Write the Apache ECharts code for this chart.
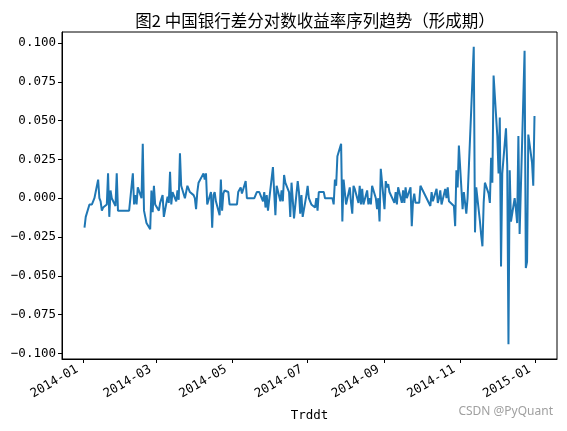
<!DOCTYPE html>
<html>
<head>
<meta charset="utf-8">
<script src="https://cdn.jsdelivr.net/npm/echarts@6/dist/echarts.min.js"></script>
<style>
  html, body { margin: 0; padding: 0; background: #fff; }
  #chart { width: 567px; height: 431px; }
</style>
</head>
<body>
<div id="chart"></div>
<script>
// exchange closed days of 2014 (weekdays only)
const holidays = ['2014-01-01', '2014-01-31', '2014-02-03', '2014-02-04', '2014-02-05', '2014-02-06',
  '2014-04-07', '2014-05-01', '2014-05-02', '2014-06-02', '2014-09-08',
  '2014-10-01', '2014-10-02', '2014-10-03', '2014-10-06', '2014-10-07']

// daily differenced log returns, one list per month (trading days in order)
const jan = [-0.019, -0.012, -0.004, -0.004, -0.004, -0.004, 0.000, 0.012, 0.000, -0.002, -0.008,
  -0.006, -0.004, 0.016, -0.012, 0.005, 0.000, -0.005, 0.016, -0.008, -0.008]
const feb = [-0.008, 0.016, -0.004, 0.002, -0.004, 0.007, 0.000, 0.035, -0.008, -0.012, -0.016,
  -0.020, 0.005, -0.009, 0.008, -0.004]
const mar = [-0.008, -0.003, -0.004, 0.002, -0.012, 0.001, -0.003, 0.017, -0.004, 0.004, -0.002,
  0.005, -0.001, 0.029, 0.008, 0.000, 0.000, 0.008, 0.006, 0.004, 0.002]
const apr = [0.000, -0.007, 0.004, 0.010, 0.016, 0.012, 0.016, -0.004, 0.004, -0.019, 0.002,
  0.004, -0.002, -0.011, 0.012, -0.008, 0.003, 0.005, 0.004, -0.004, -0.004]
const may = [-0.004, 0.004, 0.003, 0.007, 0.003, 0.011, 0.000, 0.000, 0.000, 0.000, 0.000,
  0.000, 0.004, 0.004, 0.004, -0.002, 0.004, -0.006, 0.002, -0.008]
const jun = [0.020, 0.004, -0.011, 0.008, -0.002, 0.005, -0.002, 0.015, 0.010, 0.004, -0.012,
  0.010, -0.001, -0.013, 0.011, 0.004, -0.010, 0.002, -0.012, 0.002]
const jul = [0.008, 0.000, -0.002, -0.004, -0.006, 0.000, -0.008, 0.004, 0.004, 0.004, 0.000,
  0.000, 0.000, 0.000, 0.000, -0.004, 0.012, 0.008, 0.027, 0.035, -0.015, 0.012, 0.004]
const aug = [-0.004, 0.007, -0.003, -0.010, 0.008, 0.006, -0.003, 0.008, -0.004, 0.006, -0.004,
  0.005, -0.004, 0.000, -0.004, 0.008, 0.000, -0.007, 0.000, -0.015, 0.019]
const sep = [-0.007, 0.011, 0.007, 0.009, 0.004, -0.003, 0.004, -0.004, 0.007, -0.003, 0.005,
  -0.003, 0.007, 0.000, 0.007, -0.018, -0.002, 0.003, -0.003, -0.003, 0.008]
const oct = [-0.005, 0.004, -0.002, 0.006, -0.003, 0.000, 0.005, -0.004, 0.006, 0.000, 0.007,
  -0.002, -0.002, -0.005, -0.018, 0.018, 0.007, 0.034]
const nov = [-0.007, 0.004, -0.003, -0.010, 0.000, 0.058, 0.078, 0.0975, -0.022, 0.007, -0.015,
  -0.024, -0.031, -0.003, 0.010, 0.003, -0.003, 0.026, 0.010, 0.079]
const dec = [0.040, 0.016, 0.052, -0.044, 0.016, 0.045, 0.021, -0.094, 0.018, -0.015, 0.000,
  -0.007, -0.016, 0.040, -0.023, 0.065, 0.095, -0.045, -0.041, 0.041, 0.023, 0.008, 0.053]
const months = [jan, feb, mar, apr, may, jun, jul, aug, sep, oct, nov, dec]

const yTicks = [-0.1, -0.075, -0.05, -0.025, 0, 0.025, 0.05, 0.075, 0.1]
const xTicks = ['2014-01', '2014-03', '2014-05', '2014-07', '2014-09', '2014-11', '2015-01']

function pad(n) { return (n < 10 ? '0' : '') + n }
function ymd(d) { return d.getFullYear() + '-' + pad(d.getMonth() + 1) + '-' + pad(d.getDate()) }

// pair each month's values with that month's trading days
const series = []
for (let m = 0; m < 12; m++) {
  const days = []
  for (let d = new Date(2014, m, 1); d.getMonth() === m; d = new Date(2014, m, d.getDate() + 1)) {
    const wd = d.getDay()
    if (wd === 0 || wd === 6 || holidays.indexOf(ymd(d)) >= 0) continue
    days.push(d.getTime())
  }
  if (days.length !== months[m].length) console.log('month', m + 1, days.length, months[m].length)
  days.forEach((t, i) => series.push([t, months[m][i]]))
}

// matplotlib style 5% margins
const tMin = series[0][0], tMax = series[series.length - 1][0]
const vals = series.map(p => p[1])
const vMin = Math.min(...vals), vMax = Math.max(...vals)
const xPad = (tMax - tMin) * 0.05, yPad = (vMax - vMin) * 0.05
const xTickTimes = xTicks.map(s => new Date(+s.slice(0, 4), +s.slice(5) - 1, 1).getTime())

const tickFont = { fontFamily: 'DejaVu Sans Mono', fontSize: 12.5, color: '#000' }

const chart = echarts.init(document.getElementById('chart'), null, { renderer: 'canvas' })
chart.setOption({
  animation: false,
  title: {
    text: '图2 中国银行差分对数收益率序列趋势（形成期）',
    left: 310,
    top: 7,
    textAlign: 'center',
    textStyle: { fontFamily: 'Noto Sans CJK SC', fontSize: 16.5, fontWeight: 'normal', color: '#000' }
  },
  grid: { left: 62, right: 10, top: 32, bottom: 72, show: true, borderColor: '#000', borderWidth: 1 },
  xAxis: {
    type: 'value',
    min: tMin - xPad,
    max: tMax + xPad,
    name: 'Trddt',
    nameLocation: 'middle',
    nameGap: 50,
    nameTextStyle: tickFont,
    splitLine: { show: false },
    axisLine: { onZero: false, lineStyle: { color: '#000', width: 1 } },
    axisTick: { length: 4, lineStyle: { color: '#000' }, customValues: xTickTimes },
    axisLabel: {
      rotate: 30,
      margin: 6,
      padding: [0, 7, 0, 0],
      ...tickFont,
      customValues: xTickTimes,
      formatter: v => { const d = new Date(v); return d.getFullYear() + '-' + pad(d.getMonth() + 1) }
    }
  },
  yAxis: {
    type: 'value',
    min: vMin - yPad,
    max: vMax + yPad,
    splitLine: { show: false },
    axisLine: { show: true, onZero: false, lineStyle: { color: '#000', width: 1 } },
    axisTick: { show: true, length: 4, lineStyle: { color: '#000' }, customValues: yTicks },
    axisLabel: {
      margin: 6,
      ...tickFont,
      customValues: yTicks,
      formatter: v => (v < 0 ? '\u2212' : '') + Math.abs(v).toFixed(3)
    }
  },
  series: [{
    type: 'line',
    data: series,
    showSymbol: false,
    lineStyle: { color: '#1f77b4', width: 2 },
    itemStyle: { color: '#1f77b4' }
  }],
  graphic: [{
    type: 'text',
    right: 14,
    top: 406,
    style: { text: 'CSDN @PyQuant', fill: '#a0a0a0', font: '12px "Noto Sans"' }
  }]
})
</script>
</body>
</html>
